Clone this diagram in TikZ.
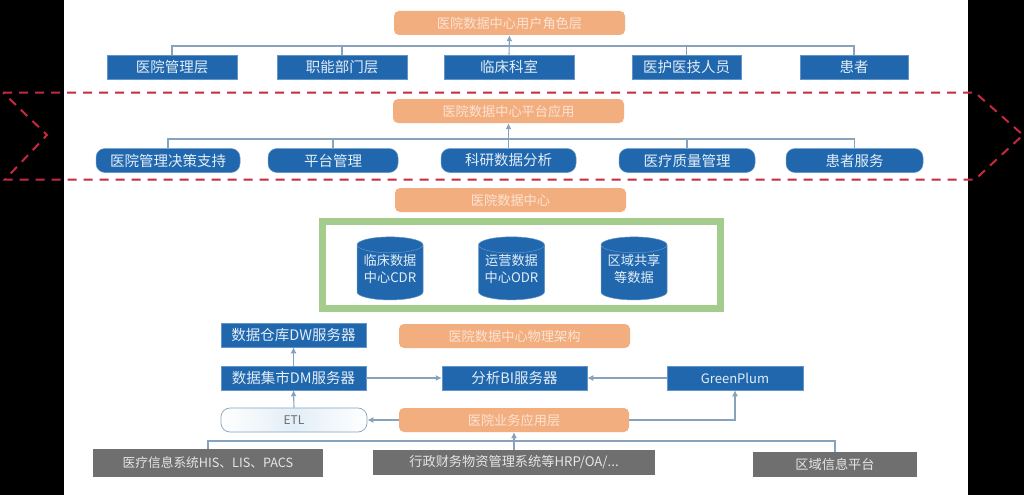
\documentclass[tikz,border=0pt]{standalone}
\usepackage{fontspec}
\usepackage{xcolor}
\setmainfont{Noto Sans CJK SC}
\usetikzlibrary{arrows.meta, positioning, shapes.geometric, calc}
\definecolor{deepblue}{HTML}{2067AE}
\definecolor{softorange}{HTML}{F3AE80}
\definecolor{peach}{HTML}{FBE3D2}
\definecolor{slate}{HTML}{6F6F6F}
\definecolor{leaf}{HTML}{A4CC8C}
\definecolor{wireblue}{HTML}{86A3BB}
\definecolor{dashred}{HTML}{C8283C}
\definecolor{paleblue}{HTML}{E3EEF7}
\newcommand{\dblift}[1]{\raisebox{3.5pt}[\height][\depth]{#1}}
\tikzset{
  box/.style={
    rectangle, inner sep=0pt,
    align=center, minimum height=24pt
  },
  bluebox/.style={box, fill=deepblue, draw=deepblue!70!white, line width=0.5pt, text=paleblue,
    font=\fontsize{14.5}{17}\selectfont},
  pillbox/.style={bluebox, rounded corners=9pt},
  orangebox/.style={box, fill=softorange, rounded corners=5pt, minimum width=231pt,
    text=peach, font=\fontsize{13.2}{15}\selectfont},
  greybox/.style={box, fill=slate, text=white!82!slate, font=\fontsize{12.7}{15}\selectfont},
  etlbox/.style={box, rounded corners=9pt, draw=wireblue, line width=0.7pt, left color=white,
    right color=white, middle color=paleblue, text=slate, font=\fontsize{12}{14}\selectfont},
  dbnode/.style={
    cylinder, shape border rotate=90, aspect=0.3, inner sep=0pt,
    fill=deepblue, draw=deepblue!70!white, line width=0.5pt, text=paleblue,
    minimum width=66pt, minimum height=63pt, align=center,
    font=\fontsize{13.2}{17}\selectfont
  },
  wire/.style={line width=1.1pt, draw=wireblue},
  arrow/.style={wire, -{Latex[length=6pt,width=6pt]}},
  band/.style={line width=2pt, draw=dashred, dash pattern=on 9pt off 7pt},
}
\begin{document}
\begin{tikzpicture}[x=1pt, y=-1pt]
  \useasboundingbox (0,0) rectangle (1024,495);
  \fill[white] (0,0) rectangle (1024,495);
  \fill[black] (0,0) rectangle (64,495);
  \fill[black] (968,0) rectangle (1024,495);

  \node[orangebox] (roles) at (509.5,23) {医院数据中心用户角色层};
  \node[bluebox, minimum width=130pt] (mgmt) at (172,67) {医院管理层};
  \node[bluebox, minimum width=130pt] (dept) at (342,67) {职能部门层};
  \node[bluebox, minimum width=130pt] (clinic) at (509,67) {临床科室};
  \node[bluebox, minimum width=109pt] (staff) at (686.5,67) {医护医技人员};
  \node[bluebox, minimum width=108pt] (patient) at (854,67) {患者};

  \node[orangebox] (apps) at (508.5,111) {医院数据中心平台应用};
  \node[pillbox, minimum width=144pt] (decision) at (168,160.5) {医院管理决策支持};
  \node[pillbox, minimum width=130pt] (platform) at (333,160.5) {平台管理};
  \node[pillbox, minimum width=135pt] (research) at (508.5,160.5) {科研数据分析};
  \node[pillbox, minimum width=136pt] (quality) at (687,160.5) {医疗质量管理};
  \node[pillbox, minimum width=137pt] (service) at (854.5,160.5) {患者服务};

  \node[orangebox] (center) at (510.5,200) {医院数据中心};
  \node[draw=leaf, line width=7pt, minimum width=398pt, minimum height=87pt] (frame) at (521.5,265) {};
  \node[dbnode] (cdr) at (390,272.5) {\dblift{临床数据}\\\dblift{中心CDR}};
  \node[dbnode] (odr) at (511.5,272.5) {\dblift{运营数据}\\\dblift{中心ODR}};
  \node[dbnode] (share) at (634,272.5) {\dblift{区域共享}\\\dblift{等数据}};

  \node[bluebox, minimum width=145pt] (dw) at (293.5,335) {数据仓库DW服务器};
  \node[orangebox] (arch) at (514.5,336) {医院数据中心物理架构};
  \node[bluebox, minimum width=145pt] (dm) at (293.5,378) {数据集市DM服务器};
  \node[bluebox, minimum width=145pt] (bi) at (514.5,378) {分析BI服务器};
  \node[bluebox, minimum width=136pt, font=\fontsize{13}{15}\selectfont] (plum) at (735,378) {GreenPlum};
  \node[etlbox, minimum width=146pt] (etl) at (294,420) {ETL};
  \node[orangebox, minimum width=230pt] (biz) at (514,420) {医院业务应用层};
  \node[greybox, minimum width=230pt, minimum height=28pt] (his) at (208,463) {医疗信息系统HIS、LIS、PACS};
  \node[greybox, minimum width=282pt, minimum height=25pt, font=\fontsize{13.2}{15}\selectfont] (hrp) at (514,462.5) {行政财务物资管理系统等HRP/OA/...};
  \node[greybox, minimum width=164pt, minimum height=25pt, font=\fontsize{13.2}{15}\selectfont] (region) at (835,464.5) {区域信息平台};

  \coordinate (rolebus) at (509,46);
  \coordinate (appbus) at (508.5,139);
  \coordinate (srcbus) at (514,441);

  \draw[wire] (mgmt.north) |- (rolebus) -| (patient.north);
  \draw[wire] (dept.north) -- (dept.north |- rolebus);
  \draw[wire] (staff.north) -- (staff.north |- rolebus);
  \draw[arrow] (clinic.north) -- (roles.south);

  \draw[wire] (decision.north) |- (appbus) -| (service.north);
  \draw[wire] (platform.north) -- (platform.north |- appbus);
  \draw[wire] (quality.north) -- (quality.north |- appbus);
  \draw[arrow] (research.north) -- (apps.south);

  \draw[arrow] (dm.north) -- (dw.south);
  \draw[arrow] (etl.north) -- (dm.south);
  \draw[arrow] (dm.east) -- (bi.west);
  \draw[arrow] (plum.west) -- (bi.east);
  \draw[arrow] (biz.west) -- (etl.east);
  \draw[arrow] (biz.east) -| (plum.south);
  \draw[wire] (his.north) |- (srcbus) -| (region.north);
  \draw[arrow] (hrp.north) -- (biz.south);

  \draw[band] (3,92.5) -- (975,92.5) -- (1023,135) -- (975,179.5) -- (5,179.5) -- (47,135) -- cycle;
\end{tikzpicture}
\end{document}
